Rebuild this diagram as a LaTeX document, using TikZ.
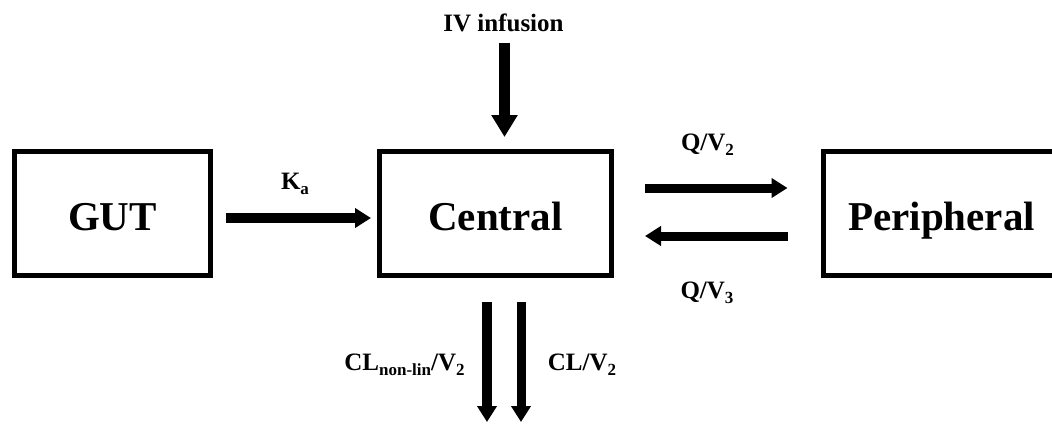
\documentclass[tikz,border=0pt]{standalone}
\usepackage{fontspec}
\setmainfont{Liberation Serif}
\usepackage{tikz}
\usetikzlibrary{positioning, arrows.meta}
\newcommand{\subtxt}[1]{\raisebox{-0.22em}{\fontsize{17}{19}\selectfont #1}}

\begin{document}
\begin{tikzpicture}[x=1pt, y=-1pt,
    comp/.style={draw, line width=5pt, minimum height=124pt, inner sep=0pt,
                 text height=33pt, text depth=0pt,
                 font=\fontsize{41}{49}\selectfont\bfseries},
    lab/.style={font=\fontsize{25}{30}\selectfont\bfseries, inner sep=0pt, anchor=base},
    flow/.style={-{Triangle[length=16pt, width=19pt]}, line width=9pt},
    bigflow/.style={-{Triangle[length=22pt, width=25pt]}, line width=10.5pt}
]
\useasboundingbox (0,0) rectangle (1052,423);

\node[comp, minimum width=196pt] (Gut) at (112.5,213.5) {GUT};
\node[comp, minimum width=232pt] (Cen) at (495.5,213.5) {Central};
\node[comp, minimum width=237pt] (Per) at (941.5,213.5) {Peripheral};

\node[lab] (Iv) at (503.5,31) {IV infusion};
\node[lab] (Ka) at (295,189) {K\subtxt{a}};
\node[lab] (Q2) at (707.5,150) {Q/V\subtxt{2}};
\node[lab] (Q3) at (707,298) {Q/V\subtxt{3}};
\node[lab] (Cln) at (404.5,370) {CL\subtxt{non-lin}/V\subtxt{2}};
\node[lab] (Cl) at (582,370) {CL/V\subtxt{2}};

\coordinate (OutN) at (487,422);
\coordinate (OutL) at (521,422);

\draw[bigflow, shorten <=11pt, shorten >=12pt] ([xshift=1pt]Iv.south) -- ([xshift=1pt]Iv.south |- Cen.north);
\draw[flow, line width=10pt, shorten <=13pt, shorten >=6pt] ([yshift=-4.5pt]Gut.east) -- ([yshift=-4.5pt]Cen.west);
\draw[flow, shorten <=31pt, shorten >=33pt] ([yshift=25.5pt]Cen.east) -- ([yshift=25.5pt]Per.west);
\draw[flow, shorten <=33pt, shorten >=31pt] ([yshift=-22.5pt]Per.west) -- ([yshift=-22.5pt]Cen.east);
\draw[flow, line width=10pt, shorten <=24pt] (OutN |- Cen.south) -- (OutN);
\draw[flow, shorten <=24pt] (OutL |- Cen.south) -- (OutL);
\end{tikzpicture}
\end{document}
